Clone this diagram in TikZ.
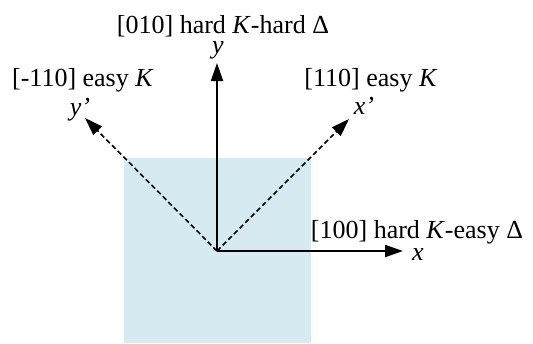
\documentclass[tikz,border=0pt]{standalone}
\usepackage{fontspec}
\setmainfont{Liberation Serif}
\usetikzlibrary{arrows.meta}
\definecolor{sqfill}{RGB}{214,234,241}
\begin{document}
\begin{tikzpicture}[x=1pt,y=-1pt,
  lbl/.style={font=\fontsize{26}{30}\selectfont, inner sep=0pt, anchor=base},
  axis/.style={line width=2pt, -{Triangle[length=18pt,width=12pt]}},
  diag/.style={line width=1.6pt, dash pattern=on 5pt off 3pt, -{Triangle[length=18pt,width=12pt]}}]
\useasboundingbox (0,0) rectangle (533,343);
\fill[sqfill] (124,158) rectangle (311,343);
\coordinate (O) at (217,251);
\coordinate (Y) at (217,63);
\coordinate (X) at (403,251);
\coordinate (XP) at (349,119);
\coordinate (YP) at (85,118);
\draw[diag] (O) -- (XP);
\draw[diag] (O) -- (YP);
\draw[axis] (O) -- (Y);
\draw[axis] (O) -- (X);
\node[lbl] (ty) at (223,33) {[010] hard \textit{K}-hard Δ};
\node[lbl] (ly) at (218,53) {\textit{y}};
\node[lbl] (typ) at (83,86) {[-110] easy \textit{K}};
\node[lbl] (lyp) at (80,115) {\textit{y’}};
\node[lbl] (txp) at (371,86) {[110] easy \textit{K}};
\node[lbl] (lxp) at (364,114) {\textit{x’}};
\node[lbl] (tx) at (417,238) {[100] hard \textit{K}-easy Δ};
\node[lbl] (lx) at (418,260) {\textit{x}};
\end{tikzpicture}
\end{document}
